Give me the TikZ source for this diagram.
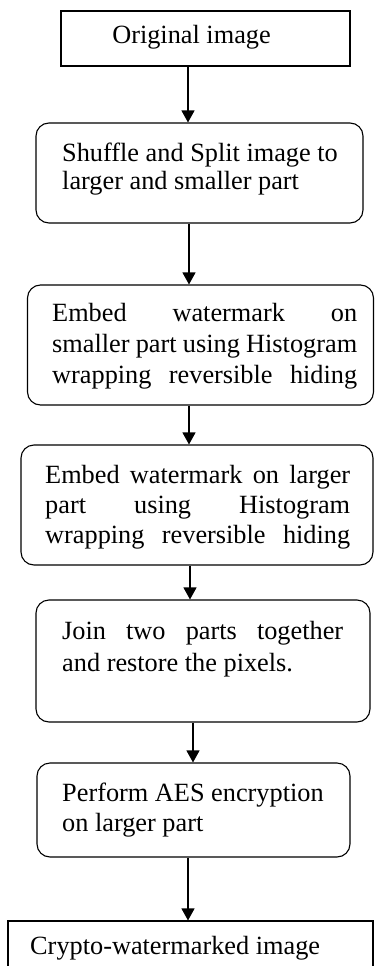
\documentclass[tikz,border=0pt]{standalone}
\usepackage{fontspec}
\setmainfont{Liberation Serif}
\usetikzlibrary{arrows.meta}
\begin{document}
\begin{tikzpicture}[x=1pt,y=-1pt,
  box/.style={draw=black, line width=1.1pt, inner sep=0pt},
  rbox/.style={box, rounded corners=13pt},
  txt/.style={inner sep=0pt, align=left, font=\fontsize{26.3}{30}\selectfont},
  arr/.style={draw=black, line width=1.1pt, -{Triangle[width=13pt,length=12pt]}}]
\useasboundingbox (0,0) rectangle (375,966);
\begin{scope}
\clip (0,0) rectangle (375,966);
% boxes
\node[box,  minimum width=289pt, minimum height=55pt]  (b1) at (205.5,38.5) {};
\node[rbox, minimum width=327pt, minimum height=100pt] (b2) at (199.5,173) {};
\node[rbox, minimum width=346pt, minimum height=120pt] (b3) at (200.5,345) {};
\node[rbox, minimum width=352pt, minimum height=120pt] (b4) at (197,505) {};
\node[rbox, minimum width=334pt, minimum height=122pt] (b5) at (203,661) {};
\node[rbox, minimum width=313pt, minimum height=94pt]  (b6) at (193.5,810) {};
\node[box,  minimum width=365pt, minimum height=80pt]  (b7) at (190.5,961) {};
% texts
\node[txt] (t1) at (191.5,37) {Original image};
\node[txt, anchor=west, font=\fontsize{26.3}{28}\selectfont] (t2) at (62,169)
  {Shuffle and Split image to\\larger and smaller part};
\node[txt, anchor=west, font=\fontsize{26.3}{31}\selectfont] (t3) at (52,346.7)
  {\makebox[305pt][s]{Embed watermark on}\\
   \makebox[305pt][s]{smaller part using Histogram}\\
   \makebox[305pt][s]{wrapping reversible hiding}};
\node[txt, anchor=west] (t4) at (45,507.3)
  {\makebox[305pt][s]{Embed watermark on larger}\\
   \makebox[305pt][s]{part using Histogram}\\
   \makebox[305pt][s]{wrapping reversible hiding}};
\node[txt, anchor=west, font=\fontsize{26.3}{32}\selectfont] (t5) at (62,649)
  {\makebox[281pt][s]{Join two parts together}\\and restore the pixels.};
\node[txt, anchor=west] (t6) at (62,810)
  {Perform AES encryption\\on larger part};
\node[txt, anchor=west] (t7) at (30,948) {Crypto-watermarked image};
% connectors
\draw[arr] (188,0 |- b1.south) -- (188,0 |- b2.north);
\draw[arr] (189,0 |- b2.south) -- (189,0 |- b3.north);
\draw[arr] (189,0 |- b3.south) -- (189,0 |- b4.north);
\draw[arr] (190,0 |- b4.south) -- (190,0 |- b5.north);
\draw[arr] (193,0 |- b5.south) -- (193,0 |- b6.north);
\draw[arr] (188,0 |- b6.south) -- (188,0 |- b7.north);
\end{scope}
\end{tikzpicture}
\end{document}
